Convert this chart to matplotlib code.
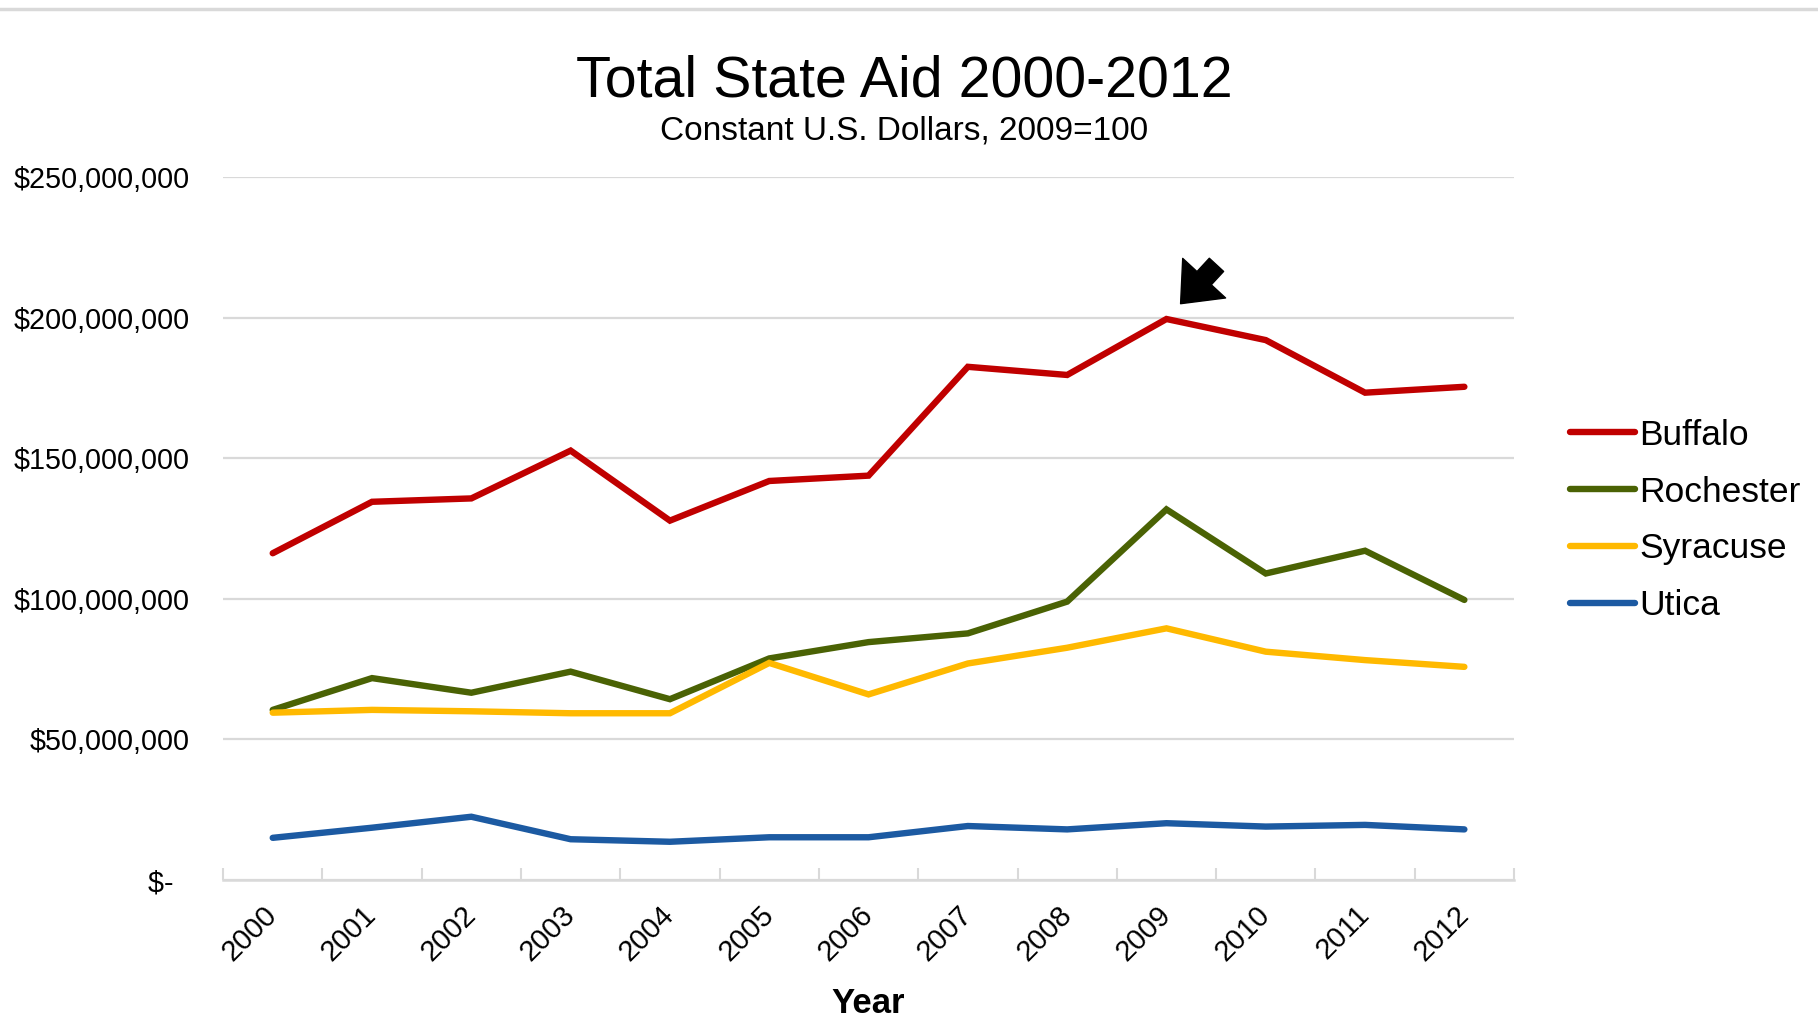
import matplotlib
matplotlib.use("Agg")
import matplotlib.pyplot as plt
from matplotlib.lines import Line2D
from matplotlib.ticker import FuncFormatter, FixedLocator

plt.rcParams['font.family'] = ['Liberation Sans', 'DejaVu Sans']

years = ['2000', '2001', '2002', '2003', '2004', '2005', '2006',
         '2007', '2008', '2009', '2010', '2011', '2012']
buffalo = [116.2, 134.5, 135.7, 152.7, 127.8, 141.9, 143.8,
           182.5, 179.6, 199.5, 192.0, 173.3, 175.4]
rochester = [60.5, 71.8, 66.6, 74.1, 64.3, 78.8, 84.6,
             87.7, 99.0, 131.8, 109.0, 117.1, 99.6]
syracuse = [59.5, 60.5, 60.0, 59.3, 59.3, 77.2, 66.0,
            77.0, 82.6, 89.5, 81.2, 78.2, 75.8]
utica = [15.0, 18.6, 22.5, 14.5, 13.6, 15.2, 15.2,
         19.2, 18.0, 20.2, 19.0, 19.6, 18.0]
series_names = ['Buffalo', 'Rochester', 'Syracuse', 'Utica']
series_values = [buffalo, rochester, syracuse, utica]
series_colors = ['#c00000', '#4a6204', '#ffb900', '#1c5aa2']
y_ticks = [0, 50, 100, 150, 200, 250]

fig = plt.figure(figsize=(18.18, 10.19), dpi=100)
ax = fig.add_axes([0.1227, 0.1364, 0.7101, 0.6899])

x = list(range(len(years)))
handles = []
for name, vals, col in zip(series_names, series_values, series_colors):
    v = [val * 1e6 for val in vals]
    ln, = ax.plot(x, v, color=col, lw=4.6, solid_joinstyle='miter',
                  solid_capstyle='round', label=name, zorder=3)
    handles.append(ln)

ax.set_xlim(-0.5, len(years) - 0.5)
ax.set_ylim(0, 250e6)
ax.set_yticks([t * 1e6 for t in y_ticks])

def fmt(v, pos):
    if v == 0:
        return '$-  '
    return '${:,.0f}'.format(v)

ax.yaxis.set_major_formatter(FuncFormatter(fmt))
ax.tick_params(axis='y', length=0, pad=24, labelsize=20.7, colors='black')
ax.grid(axis='y', color='#d9d9d9', lw=1.6, zorder=0)
ax.set_axisbelow(True)

ax.set_xticks(x)
ax.set_xticklabels(years, rotation=45, ha='right', va='center',
                   rotation_mode='anchor', fontsize=21)
ax.tick_params(axis='x', which='major', length=0, pad=22)
ax.xaxis.set_minor_locator(FixedLocator([i - 0.5 for i in range(len(years) + 1)]))
ax.tick_params(axis='x', which='minor', direction='in', length=9,
               width=1.5, color='#d9d9d9')

for s in ['top', 'right', 'left']:
    ax.spines[s].set_visible(False)
ax.spines['bottom'].set_color('#d9d9d9')
ax.spines['bottom'].set_linewidth(1.8)

ax.set_xlabel('Year', fontsize=25, fontweight='bold', labelpad=15)

fig.text(0.4975, 0.920, 'Total State Aid 2000-2012', ha='center', va='center',
         fontsize=41.3)
fig.text(0.4975, 0.871, 'Constant U.S. Dollars, 2009=100', ha='center',
         va='center', fontsize=24)

leg = fig.legend(handles=handles, labels=series_names, loc='upper left',
                 bbox_to_anchor=(0.8635, 0.589), frameon=False, fontsize=25.5,
                 handlelength=1.85, handletextpad=0.1, labelspacing=0.67,
                 borderaxespad=0, borderpad=0)

# annotation arrow pointing at the 2009 Buffalo peak
ax.annotate('', xy=(9, buffalo[9] * 1e6), xytext=(36, 39),
            textcoords='offset points',
            arrowprops=dict(arrowstyle='simple,head_length=1.25,head_width=2.1,tail_width=0.7',
                            mutation_scale=20, fc='black', ec='black',
                            shrinkA=0, shrinkB=15))

fig.add_artist(Line2D([0, 1], [0.9915, 0.9915], transform=fig.transFigure,
                      color='#d9d9d9', lw=2.5))

fig.savefig('out.png', dpi=100)
